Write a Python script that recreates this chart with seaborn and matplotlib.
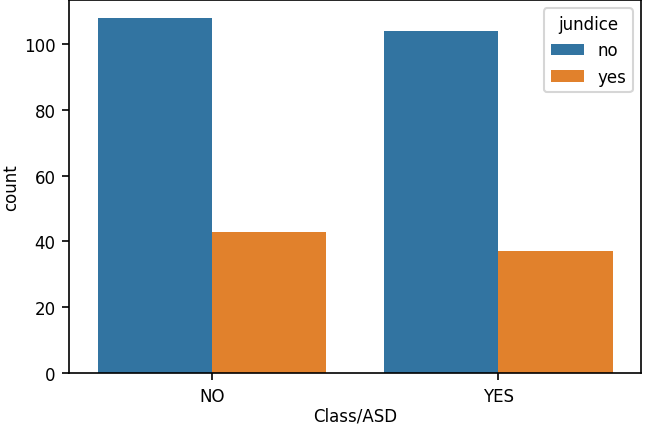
import numpy as np, pandas as pd
import matplotlib; matplotlib.use("Agg")
import matplotlib.pyplot as plt
import seaborn as sns

# counts
classes = ["NO", "YES"]
jundice = ["no", "yes"]
counts = {("NO", "no"): 108, ("NO", "yes"): 43,
          ("YES", "no"): 104, ("YES", "yes"): 37}

rows = []
for (c, j), n in counts.items():
    rows += [(c, j)] * n
df = pd.DataFrame(rows, columns=["Class/ASD", "jundice"])

plt.rcParams.update({"font.size": 8.0, "xtick.major.pad": 3, "ytick.major.pad": 3})
fig = plt.figure(figsize=(6.45 / 1.5, 4.27 / 1.5), dpi=150)
ax = fig.add_axes([0.107, 0.124, 0.887, 0.874])
sns.countplot(data=df, x="Class/ASD", hue="jundice", order=classes,
              hue_order=jundice, ax=ax)
ax.legend(title="jundice", loc="upper right", title_fontsize=8.0)
ax.set_xlabel("Class/ASD", labelpad=1)
ax.set_ylabel("count", labelpad=2)
fig.savefig("out.png", dpi=150)
